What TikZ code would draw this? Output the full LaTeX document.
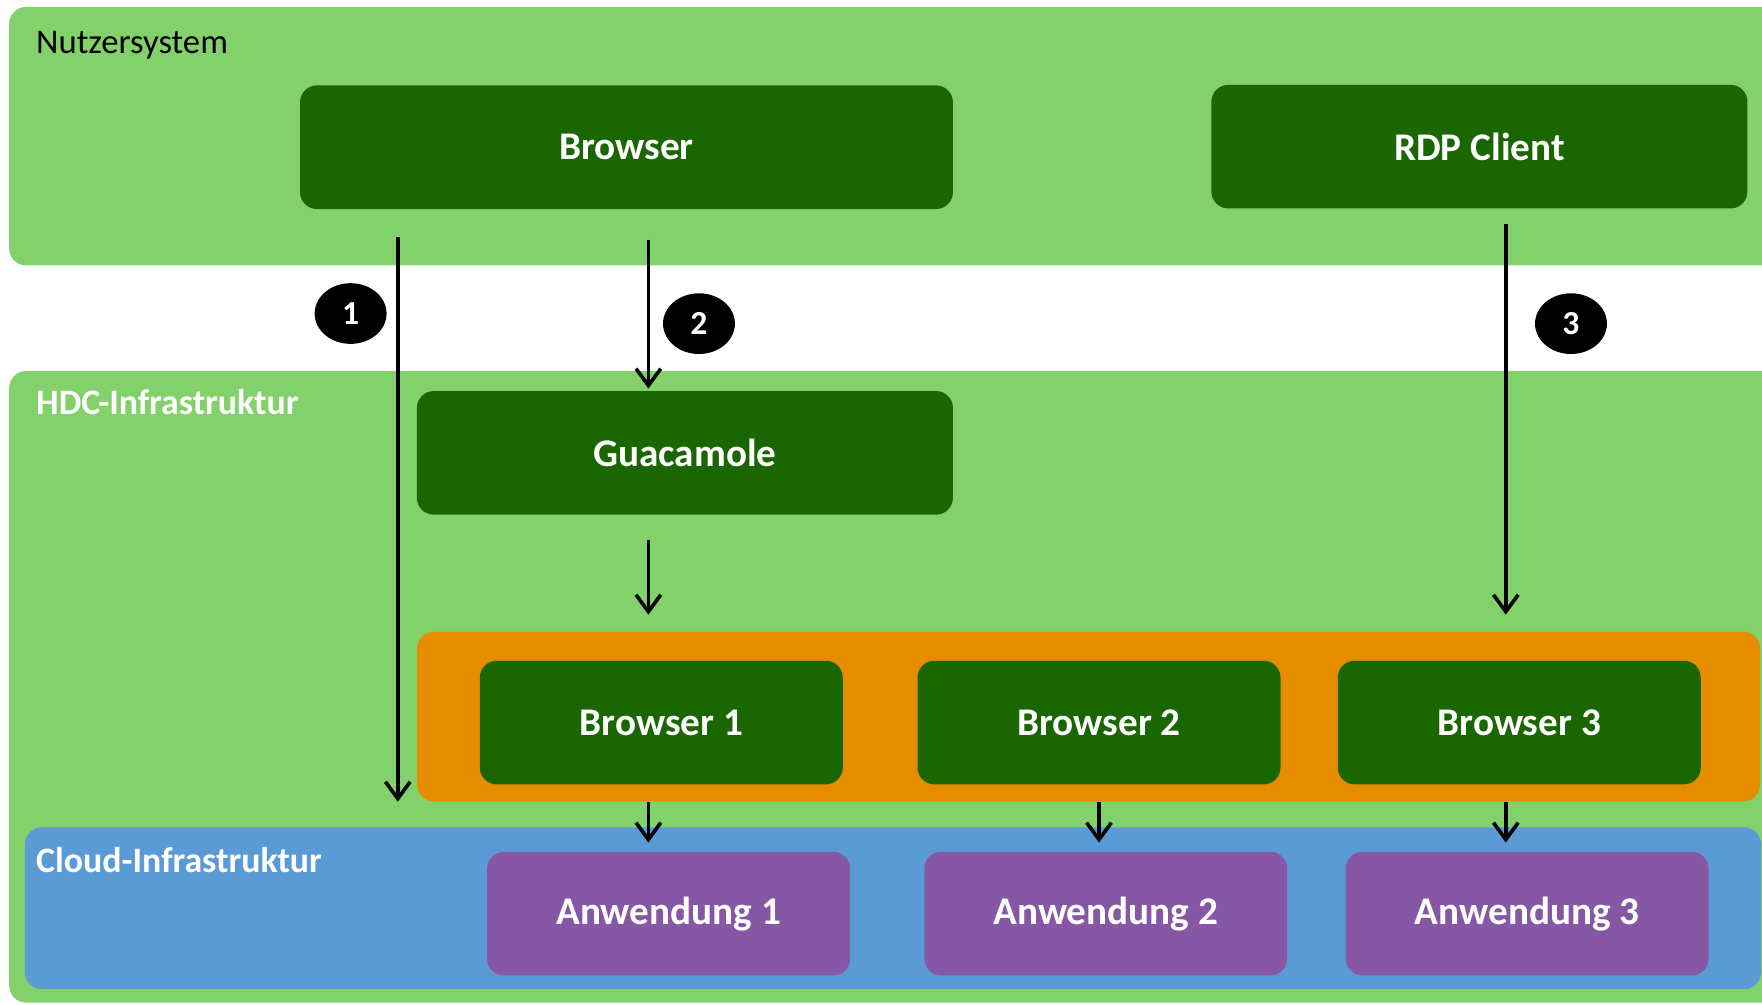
\documentclass[tikz,border=0pt]{standalone}
\usepackage{fontspec}
\setmainfont{Carlito}
\usetikzlibrary{arrows.meta,shapes.geometric}

\definecolor{nutzgruen}{RGB}{130,209,106}
\definecolor{boxgruen}{RGB}{26,102,0}
\definecolor{vmorange}{RGB}{229,140,0}
\definecolor{cloudblau}{RGB}{91,155,213}
\definecolor{anwlila}{RGB}{133,87,165}

\begin{document}
\begin{tikzpicture}[x=1bp,y=-1bp,
						panel/.style={rectangle,rounded corners=15bp,inner sep=0,anchor=north west},
						kasten/.style={rectangle,rounded corners=15bp,fill=boxgruen,text=white,
						inner sep=0,minimum height=110bp,font=\fontsize{35}{42}\selectfont\bfseries},
						anw/.style={kasten,fill=anwlila},
						titel/.style={anchor=west,inner sep=0,text=white,
						font=\fontsize{32}{38}\selectfont\bfseries},
						nummer/.style={ellipse,fill=black,text=white,inner sep=0,
						minimum width=64bp,minimum height=54bp,font=\fontsize{30}{36}\selectfont\bfseries},
						pfeil/.style={-{Straight Barb[length=15bp,width=22bp]},line width=3.2bp}]

		\useasboundingbox (0,0) rectangle (1568,894);

		\node[panel,fill=nutzgruen,minimum width=1620bp,minimum height=230bp] (nutzer) at (8,6) {};
		\node[panel,fill=nutzgruen,minimum width=1620bp,minimum height=562bp] (hdc) at (8,330) {};
		\node[panel,fill=vmorange,minimum width=1195bp,minimum height=151bp] (vm) at (371,562) {};
		\node[panel,fill=cloudblau,minimum width=1545bp,minimum height=144bp] (cloud) at (22,736) {};

		\node[titel,text=black,font=\fontsize{31}{37}\selectfont] at (32,40) {Nutzersystem};
		\node[titel] at (32,358) {HDC-Infrastruktur};
		\node[titel] at (32,765) {Cloud-Infrastruktur};

		\node[kasten,minimum width=581bp] (browser) at (557.5,131) {Browser};
		\node[kasten,minimum width=477bp] (rdp) at (1316.5,130.5) {RDP Client};
		\node[kasten,minimum width=477bp] (guac) at (609.5,403) {Guacamole};

		\node[kasten,minimum width=323bp] (browser1) at (588.5,643) {Browser 1};
		\node[kasten,minimum width=323bp] (browser2) at (978,643) {Browser 2};
		\node[kasten,minimum width=323bp] (browser3) at (1352,643) {Browser 3};

		\node[anw,minimum width=323bp] (anw1) at (595,813) {Anwendung 1};
		\node[anw,minimum width=323bp] (anw2) at (984,813) {Anwendung 2};
		\node[anw,minimum width=323bp] (anw3) at (1359,813) {Anwendung 3};

		\node[nummer] (n1) at (312,279) {1};
		\node[nummer] (n2) at (622,288) {2};
		\node[nummer] (n3) at (1398,288) {3};

		\coordinate (xa) at (354,0);
		\coordinate (xb) at (577,0);
		\coordinate (xc) at (978,0);
		\coordinate (xd) at (1340,0);

		\draw[pfeil] ([yshift=-25bp]browser.south -| xa) -- (vm.south -| xa);
		\draw[pfeil] ([yshift=-27bp]browser.south -| xb) -- ([yshift=2bp]guac.north -| xb);
		\draw[pfeil] ([yshift=-22bp]guac.south -| xb) -- ([yshift=15bp]vm.north -| xb);
		\draw[pfeil] ([yshift=-14bp]rdp.south -| xd) -- ([yshift=15bp]vm.north -| xd);
		\foreach \x/\a in {xb/anw1,xc/anw2,xd/anw3}
			\draw[pfeil] (vm.south -| \x) -- ([yshift=8bp]\a.north -| \x);

	\end{tikzpicture}
\end{document}
